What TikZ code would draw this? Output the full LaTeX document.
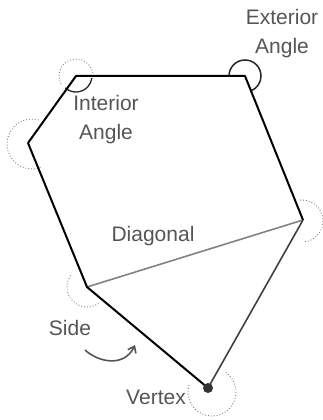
\documentclass[tikz,border=0pt]{standalone}
\usepackage{fontspec}
\setmainfont{Liberation Sans}
\usetikzlibrary{arrows.meta,calc}
\definecolor{txtgray}{RGB}{85,85,85}
\definecolor{diaggray}{RGB}{130,130,130}
\definecolor{dotgray}{RGB}{125,125,125}
\begin{document}
\begin{tikzpicture}[x=1pt,y=1pt,
  edge/.style={line width=2pt,black,line join=round},
  lightedge/.style={line width=1.6pt,black!75,line join=round},
  diag/.style={line width=1.6pt,diaggray},
  dotarc/.style={dotgray,line width=0.9pt,dotted},
  solidarc/.style={black!85,line width=1.3pt},
  lbl/.style={text=txtgray,font=\fontsize{21}{29}\selectfont,inner sep=0pt,align=center}]
\useasboundingbox (0,0) rectangle (323,420);
% vertices
\coordinate (A) at (76,344);
\coordinate (B) at (245,344);
\coordinate (E) at (303,200);
\coordinate (F) at (208,32);
\coordinate (D) at (87,133);
\coordinate (C) at (28,277);
\coordinate (Cc) at (32,276);
\coordinate (Ec) at (302,199);
\coordinate (Fc) at (212,28);
% angle arcs
\draw[dotarc] ([shift={(-10:17)}]A) arc[start angle=-10,end angle=215,radius=17];
\draw[solidarc] ([shift={(228:16)}]A) arc[start angle=228,end angle=352,radius=16];
\draw[solidarc,line width=1.5pt] ([shift={(180:16)}]B) arc[start angle=180,end angle=-67,radius=16];
\draw[dotarc] ([shift={(75:25)}]Cc) arc[start angle=75,end angle=290,radius=25];
\draw[dotarc] ([shift={(145:20)}]D) arc[start angle=145,end angle=305,radius=20];
\draw[dotarc] ([shift={(95:21)}]Ec) arc[start angle=95,end angle=-85,radius=21];
\draw[dotarc] ([shift={(55:24)}]Fc) arc[start angle=55,end angle=-200,radius=24];
% diagonal
\draw[diag] (D) -- (E);
% sides
\draw[edge] (C) -- (A) -- (B) -- (E);
\draw[lightedge] (E) -- (F);
\draw[edge] (F) -- (D) -- (C);
\fill[black!80] (F) circle[radius=5];
% side arrow
\coordinate (s1) at (85,70);
\coordinate (s2) at (135,75);
\draw[txtgray,line width=1.6pt,-{Straight Barb[length=6pt,width=9pt]}] (s1) .. controls (98,58) and (124,52) .. (s2);
% labels
\node[lbl] (ext) at (282,386) {Exterior\\Angle};
\node[lbl] (int) at (106,300) {Interior\\Angle};
\node[lbl] (dg) at (153,184) {Diagonal};
\node[lbl] (sd) at (70,92) {Side};
\node[lbl] (vx) at (156,23) {Vertex};
\end{tikzpicture}
\end{document}
